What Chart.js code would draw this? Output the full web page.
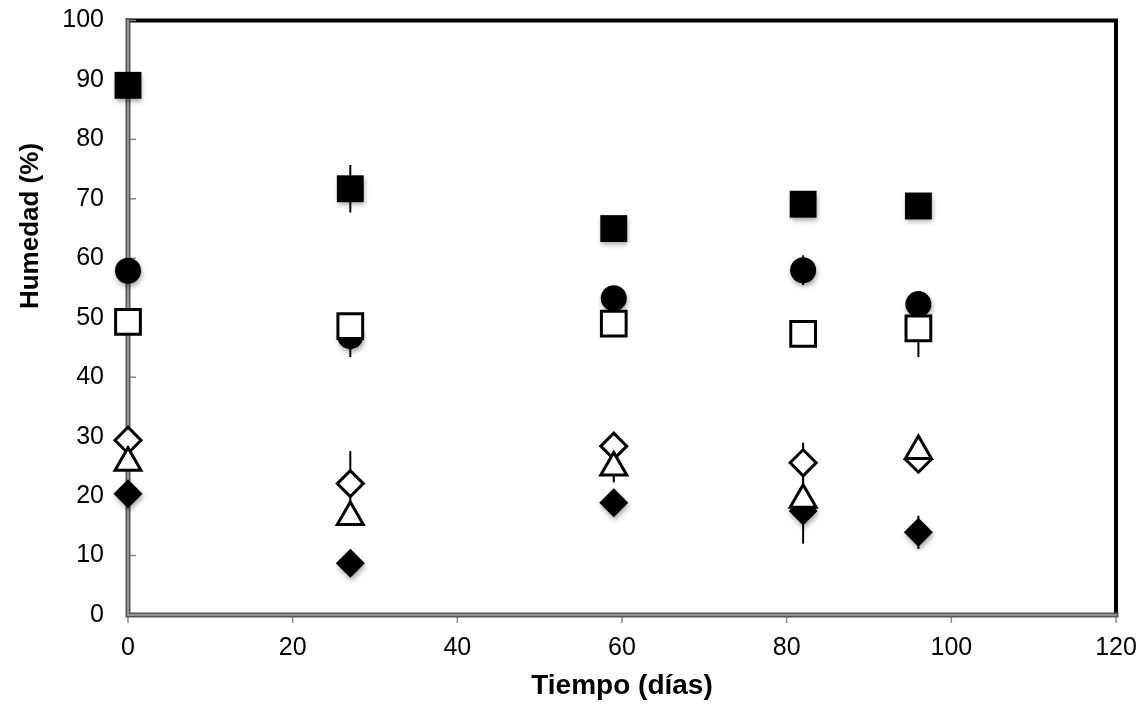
<!DOCTYPE html>
<html>
<head>
<meta charset="utf-8">
<script src="https://cdn.jsdelivr.net/npm/chart.js@4"></script>
<style>
  body { margin: 0; background: #fff; }
  #wrap { width: 1144px; height: 705px; }
</style>
</head>
<body>
<div id="wrap"><canvas id="grafico" width="1144" height="705"></canvas></div>
<script>
// Days of sampling (x axis)
const dias = [0, 27, 59, 82, 96];

// Moisture (%) per series, with error (+/-)
const cuadradoNegro = [89.1, 71.7, 65.0, 69.1, 68.8];
const cuadradoNegroErr = [0.8, 4.0, 0.8, 0.8, 0.8];
const circuloNegro = [57.9, 46.9, 53.3, 58.0, 52.3];
const circuloNegroErr = [0.8, 3.5, 0.8, 2.5, 0.8];
const cuadradoBlanco = [49.3, 48.6, 49.0, 47.3, 48.2];
const cuadradoBlancoErr = [0.8, 0.8, 0.8, 0.8, 4.8];
const romboBlanco = [29.4, 22.1, 28.4, 25.6, 26.2];
const romboBlancoErr = [0.8, 5.5, 0.8, 3.4, 0.8];
const trianguloBlanco = [25.6, 16.5, 24.8, 19.4, 27.6];
const trianguloBlancoErr = [1.0, 1.0, 2.5, 1.0, 1.5];
const romboNegro = [20.4, 8.7, 18.9, 17.5, 13.9];
const romboNegroErr = [0.8, 0.8, 0.8, 5.5, 2.8];

// Axis ticks
const ticksX = [0, 20, 40, 60, 80, 100, 120];
const ticksY = [0, 10, 20, 30, 40, 50, 60, 70, 80, 90, 100];

const fuente = "'Liberation Sans', Arial, Helvetica, sans-serif";

function puntos(valores) {
    return dias.map((d, i) => ({ x: d, y: valores[i] }));
}

function serie(label, valores, errores, estilo, radio, relleno, borde) {
    return {
        label: label,
        data: puntos(valores),
        errores: errores,
        sombra: relleno === '#000000',
        pointStyle: estilo,
        pointRadius: radio,
        pointHoverRadius: radio,
        pointBackgroundColor: relleno,
        pointBorderColor: '#000000',
        pointBorderWidth: borde,
        showLine: false,
        clip: false,
    };
}

// Frame: gray axes left/bottom, black border top/right, small tick marks
const marco = {
    id: 'marco',
    beforeDatasetsDraw(chart) {
        const { ctx, chartArea: a, scales } = chart;
        ctx.save();
        ctx.strokeStyle = '#000';
        ctx.lineWidth = 4;
        ctx.beginPath();
        ctx.moveTo(a.left, a.top);
        ctx.lineTo(a.right, a.top);
        ctx.lineTo(a.right, a.bottom);
        ctx.stroke();

        // tick marks
        ctx.strokeStyle = '#8a8a8a';
        ctx.lineWidth = 1.5;
        ticksY.forEach(v => {
            const y = scales.y.getPixelForValue(v);
            ctx.beginPath();
            ctx.moveTo(a.left, y);
            ctx.lineTo(a.left + 8, y);
            ctx.stroke();
        });
        ticksX.forEach(v => {
            const x = scales.x.getPixelForValue(v);
            ctx.beginPath();
            ctx.moveTo(x, a.bottom);
            ctx.lineTo(x, a.bottom + 8);
            ctx.stroke();
        });

        // axis lines (double gray look)
        ctx.lineCap = 'square';
        ctx.strokeStyle = '#555555';
        ctx.lineWidth = 5;
        ctx.beginPath();
        ctx.moveTo(a.left, a.top);
        ctx.lineTo(a.left, a.bottom);
        ctx.lineTo(a.right, a.bottom);
        ctx.stroke();
        ctx.strokeStyle = '#a8a8a8';
        ctx.lineWidth = 1.5;
        ctx.beginPath();
        ctx.moveTo(a.left, a.top);
        ctx.lineTo(a.left, a.bottom);
        ctx.lineTo(a.right, a.bottom);
        ctx.stroke();

        // error bars
        ctx.strokeStyle = '#000';
        ctx.lineWidth = 2;
        ctx.lineCap = 'butt';
        chart.data.datasets.forEach(ds => {
            ds.data.forEach((p, i) => {
                const x = scales.x.getPixelForValue(p.x);
                ctx.beginPath();
                ctx.moveTo(x, scales.y.getPixelForValue(p.y + ds.errores[i]));
                ctx.lineTo(x, scales.y.getPixelForValue(p.y - ds.errores[i]));
                ctx.stroke();
            });
        });
        ctx.restore();
    },
    beforeDatasetDraw(chart, args) {
        const ctx = chart.ctx;
        ctx.save();
        if (chart.data.datasets[args.index].sombra) {
            ctx.shadowColor = 'rgba(0,0,0,0.35)';
            ctx.shadowBlur = 5;
            ctx.shadowOffsetX = 1;
            ctx.shadowOffsetY = 3;
        }
    },
    afterDatasetDraw(chart) {
        chart.ctx.restore();
    },
    afterDraw(chart) {
        // y axis title, placed as in the original (above the middle)
        const ctx = chart.ctx;
        ctx.save();
        ctx.translate(31, 226);
        ctx.rotate(-Math.PI / 2);
        ctx.font = 'bold 26px ' + fuente;
        ctx.fillStyle = '#000';
        ctx.textAlign = 'center';
        ctx.textBaseline = 'middle';
        ctx.fillText('Humedad (%)', 0, 0);
        ctx.restore();
    }
};

const data = {
    datasets: [
        serie('Serie 1', cuadradoNegro, cuadradoNegroErr, 'rect', 19, '#000000', 0),
        serie('Serie 3', cuadradoBlanco, cuadradoBlancoErr, 'rect', 17.5, '#ffffff', 3),
        serie('Serie 2', circuloNegro, circuloNegroErr, 'circle', 13, '#000000', 0),
        serie('Serie 5', trianguloBlanco, trianguloBlancoErr, 'triangle', 15, '#ffffff', 3),
        serie('Serie 4', romboBlanco, romboBlancoErr, 'rectRot', 13, '#ffffff', 3),
        serie('Serie 6', romboNegro, romboNegroErr, 'rectRot', 14.5, '#000000', 0),
    ],
};

const options = {
    responsive: false,
    animation: false,
    devicePixelRatio: 1,
    layout: { padding: { left: 0, right: 28, top: 16, bottom: 0 } },
    plugins: {
        legend: { display: false },
        tooltip: { enabled: false },
    },
    scales: {
        x: {
            type: 'linear',
            min: 0,
            max: 120,
            afterFit: s => {
                s.height = 90;
                s.paddingLeft = 0;
                s.paddingRight = 0;
            },
            afterBuildTicks: s => { s.ticks = ticksX.map(v => ({ value: v })); },
            grid: { display: false, drawTicks: false },
            border: { display: false },
            ticks: { color: '#000', padding: 18, font: { family: fuente, size: 25 } },
            title: {
                display: true,
                text: 'Tiempo (días)',
                color: '#000',
                padding: { top: 0, bottom: 2 },
                font: { family: fuente, size: 28, weight: 'bold' },
            },
        },
        y: {
            type: 'linear',
            min: 0,
            max: 100,
            afterFit: s => {
                s.width = 128;
                s.paddingTop = 0;
                s.paddingBottom = 0;
            },
            afterBuildTicks: s => { s.ticks = ticksY.map(v => ({ value: v })); },
            grid: { display: false, drawTicks: false },
            border: { display: false },
            ticks: { color: '#000', padding: 24, font: { family: fuente, size: 25 } },
        },
    },
};

const ctx = document.getElementById('grafico').getContext('2d');
new Chart(ctx, {
    type: 'scatter',
    data: data,
    options: options,
    plugins: [marco],
});
</script>
</body>
</html>
